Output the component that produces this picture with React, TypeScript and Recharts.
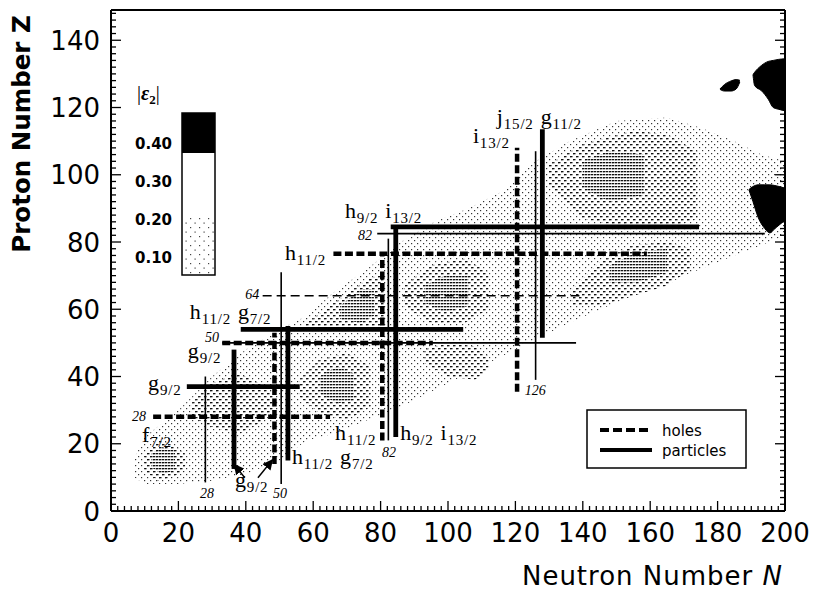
import React from 'react';
import { ComposedChart, XAxis, YAxis, Line, Area, Scatter } from 'recharts';

// ---- axes ----
const N_DOMAIN: [number, number] = [0, 200];
const Z_DOMAIN: [number, number] = [0, 149];
const N_TICKS = Array.from({ length: 101 }, (_, i) => i * 2);
const Z_TICKS = Array.from({ length: 75 }, (_, i) => i * 2);

// ---- deformation map: stippled regions as [lo, hi] bands in Z over N ----
const bandEnvelope = [
  { n: 7, lo: 10, hi: 16 },
  { n: 10, lo: 8, hi: 22 },
  { n: 20, lo: 8, hi: 30 },
  { n: 30, lo: 9, hi: 40 },
  { n: 40, lo: 11, hi: 48 },
  { n: 50, lo: 15, hi: 54 },
  { n: 58, lo: 21, hi: 58 },
  { n: 66, lo: 23, hi: 65 },
  { n: 76, lo: 27, hi: 72 },
  { n: 86, lo: 31, hi: 80 },
  { n: 96, lo: 36, hi: 86 },
  { n: 106, lo: 41, hi: 90 },
  { n: 116, lo: 46, hi: 95 },
  { n: 126, lo: 51, hi: 104 },
  { n: 136, lo: 56, hi: 110 },
  { n: 150, lo: 62, hi: 116 },
  { n: 165, lo: 68, hi: 117 },
  { n: 175, lo: 72, hi: 114 },
  { n: 185, lo: 76, hi: 110 },
  { n: 193, lo: 79, hi: 106 },
  { n: 200, lo: 82, hi: 104 },
];

// moderately deformed islands
const islandA = [
  { n: 10, lo: 12, hi: 17 },
  { n: 14, lo: 9, hi: 21 },
  { n: 18, lo: 10, hi: 20 },
  { n: 22, lo: 12, hi: 17 },
];
const islandB = [
  { n: 24, lo: 28, hi: 32 },
  { n: 30, lo: 25, hi: 38 },
  { n: 38, lo: 23, hi: 41 },
  { n: 44, lo: 26, hi: 38 },
  { n: 48, lo: 30, hi: 35 },
];
const islandC = [
  { n: 56, lo: 34, hi: 39 },
  { n: 62, lo: 29, hi: 45 },
  { n: 70, lo: 27, hi: 47 },
  { n: 77, lo: 31, hi: 43 },
];
const islandD = [
  { n: 57, lo: 54, hi: 55 },
  { n: 65, lo: 54, hi: 61 },
  { n: 75, lo: 54, hi: 68 },
  { n: 81, lo: 55, hi: 71 },
];
const islandE = [
  { n: 87, lo: 61, hi: 67 },
  { n: 95, lo: 56, hi: 73 },
  { n: 105, lo: 56, hi: 75 },
  { n: 112, lo: 60, hi: 71 },
];
const islandF = [
  { n: 93, lo: 44, hi: 48 },
  { n: 100, lo: 40, hi: 50 },
  { n: 108, lo: 39, hi: 49 },
  { n: 112, lo: 42, hi: 46 },
];
const islandG = [
  { n: 137, lo: 61, hi: 66 },
  { n: 145, lo: 61, hi: 74 },
  { n: 155, lo: 64, hi: 79 },
  { n: 165, lo: 67, hi: 80 },
  { n: 172, lo: 72, hi: 78 },
];
const islandH = [
  { n: 130, lo: 97, hi: 103 },
  { n: 140, lo: 87, hi: 109 },
  { n: 155, lo: 84, hi: 113 },
  { n: 165, lo: 84, hi: 112 },
  { n: 174, lo: 87, hi: 107 },
];

// strongest deformation inside the islands
const coreA = [
  { n: 12, lo: 13, hi: 17 },
  { n: 15, lo: 11, hi: 19 },
  { n: 19, lo: 12, hi: 18 },
];
const coreC = [
  { n: 62, lo: 35, hi: 40 },
  { n: 67, lo: 32, hi: 43 },
  { n: 72, lo: 33, hi: 41 },
];
const coreD = [
  { n: 68, lo: 57, hi: 61 },
  { n: 74, lo: 56, hi: 66 },
  { n: 78, lo: 58, hi: 66 },
];
const coreE = [
  { n: 93, lo: 62, hi: 67 },
  { n: 99, lo: 59, hi: 70 },
  { n: 106, lo: 61, hi: 70 },
];
const coreG = [
  { n: 148, lo: 68, hi: 73 },
  { n: 156, lo: 68, hi: 77 },
  { n: 165, lo: 71, hi: 78 },
];
const coreH = [
  { n: 140, lo: 96, hi: 104 },
  { n: 148, lo: 92, hi: 107 },
  { n: 158, lo: 94, hi: 106 },
];

// |eps2| > 0.36
const blackTop = [
  { n: 190.5, lo: 129.7, hi: 129.8 },
  { n: 191, lo: 126.5, hi: 130.5 },
  { n: 193, lo: 125, hi: 132.5 },
  { n: 195, lo: 122.5, hi: 133.7 },
  { n: 196.5, lo: 120, hi: 134 },
  { n: 198, lo: 119.5, hi: 134.3 },
  { n: 200, lo: 119, hi: 134.5 },
];
const blackIsle = [
  { n: 180.7, lo: 125.4, hi: 125.5 },
  { n: 182, lo: 124.9, hi: 126.8 },
  { n: 184, lo: 124.9, hi: 127.9 },
  { n: 185.5, lo: 125.5, hi: 128.3 },
  { n: 186.6, lo: 127.6, hi: 128.1 },
];
const blackLower = [
  { n: 189.3, lo: 95.5, hi: 95.6 },
  { n: 190.5, lo: 92, hi: 96.5 },
  { n: 192, lo: 87.4, hi: 97 },
  { n: 194, lo: 84, hi: 97 },
  { n: 195.5, lo: 82.7, hi: 97 },
  { n: 197, lo: 84, hi: 96.8 },
  { n: 200, lo: 86.5, hi: 96 },
];

// ---- single-particle orbitals: holes (dashed) and particles (solid) ----
const holeSegments = [
  [{ n: 12.5, z: 28 }, { n: 65, z: 28 }],
  [{ n: 48.5, z: 14 }, { n: 48.5, z: 53 }],
  [{ n: 33, z: 50 }, { n: 95.5, z: 50 }],
  [{ n: 66, z: 76.5 }, { n: 159, z: 76.5 }],
  [{ n: 80.5, z: 21 }, { n: 80.5, z: 77 }],
  [{ n: 120.5, z: 35.5 }, { n: 120.5, z: 108 }],
];
const particleSegments = [
  [{ n: 22.5, z: 37 }, { n: 56, z: 37 }],
  [{ n: 36.5, z: 12.5 }, { n: 36.5, z: 48 }],
  [{ n: 38.5, z: 54 }, { n: 104.5, z: 54 }],
  [{ n: 52.5, z: 15 }, { n: 52.5, z: 55 }],
  [{ n: 83, z: 84.5 }, { n: 174.5, z: 84.5 }],
  [{ n: 84.5, z: 22 }, { n: 84.5, z: 84.5 }],
  [{ n: 128, z: 51.5 }, { n: 128, z: 113.5 }],
];
// magic numbers (thin)
const magicSegments = [
  [{ n: 28, z: 8.5 }, { n: 28, z: 40 }],
  [{ n: 50.5, z: 8 }, { n: 50.5, z: 71 }],
  [{ n: 33, z: 50 }, { n: 138, z: 50 }],
  [{ n: 79, z: 82.5 }, { n: 194, z: 82.5 }],
  [{ n: 82.3, z: 21 }, { n: 82.3, z: 81 }],
  [{ n: 126, z: 39 }, { n: 126, z: 107 }],
];
const subshell64 = [{ n: 45, z: 64 }, { n: 139, z: 64 }];
const arrowSegments = [
  [{ n: 39.7, z: 9.9 }, { n: 36.6, z: 13.8 }],
  [{ n: 43.6, z: 9.9 }, { n: 47.9, z: 15.2 }],
];

// ---- annotations ----
const orbitalLabels = [
  { n: 9.2, z: 20.5, parts: [['f', '7/2']] },
  { n: 11, z: 36, parts: [['g', '9/2']] },
  { n: 22.8, z: 45.5, parts: [['g', '9/2']] },
  { n: 23.4, z: 57.1, parts: [['h', '11/2'], ['g', '7/2']] },
  { n: 51.6, z: 74.7, parts: [['h', '11/2']] },
  { n: 69.4, z: 87.1, parts: [['h', '9/2'], ['i', '13/2']] },
  { n: 107.4, z: 109.5, parts: [['i', '13/2']] },
  { n: 114.5, z: 115.1, parts: [['j', '15/2'], ['g', '11/2']] },
  { n: 36.8, z: 7.1, parts: [['g', '9/2']] },
  { n: 53.7, z: 14, parts: [['h', '11/2'], ['g', '7/2']] },
  { n: 66.5, z: 21.2, parts: [['h', '11/2']] },
  { n: 85.8, z: 21.2, parts: [['h', '9/2'], ['i', '13/2']] },
];
const magicLabels = [
  { n: 6.2, z: 26.7, text: '28' },
  { n: 27.9, z: 50.3, text: '50' },
  { n: 39.8, z: 63, text: '64' },
  { n: 73.3, z: 80.6, text: '82' },
  { n: 26.4, z: 3.9, text: '28' },
  { n: 48.1, z: 3.9, text: '50' },
  { n: 80.4, z: 16.1, text: '82' },
  { n: 122.8, z: 34.5, text: '126' },
];

const colorBarLabels = ['0.40', '0.30', '0.20', '0.10'];
const legendItems = [
  { name: 'holes', dash: '9 4' },
  { name: 'particles', dash: undefined },
];

const SERIF = '"Liberation Serif", "DejaVu Serif", serif';
const SANS = '"DejaVu Sans", sans-serif';

const tickStyle = { stroke: '#000', strokeWidth: 1.3 };

const BottomTick = (p: any) => {
  const { x, y, payload } = p;
  const v = payload.value;
  const major = v % 20 === 0;
  return (
    <g>
      <line x1={x} x2={x} y1={y} y2={y - (major ? 10 : 5)} {...tickStyle} />
      {major && (
        <text x={x} y={y + 31} textAnchor="middle" fontFamily={SANS} fontSize={26} fill="#000">
          {v}
        </text>
      )}
    </g>
  );
};
const TopTick = (p: any) => {
  const { x, y, payload } = p;
  const major = payload.value % 20 === 0;
  return <line x1={x} x2={x} y1={y} y2={y + (major ? 10 : 5)} {...tickStyle} />;
};
const LeftTick = (p: any) => {
  const { x, y, payload } = p;
  const v = payload.value;
  const major = v % 20 === 0;
  return (
    <g>
      <line x1={x} x2={x + (major ? 10 : 5)} y1={y} y2={y} {...tickStyle} />
      {major && (
        <text x={x - 11} y={y + 9.5} textAnchor="end" fontFamily={SANS} fontSize={26} fill="#000">
          {v}
        </text>
      )}
    </g>
  );
};
const RightTick = (p: any) => {
  const { x, y, payload } = p;
  const major = payload.value % 20 === 0;
  return <line x1={x} x2={x - (major ? 10 : 5)} y1={y} y2={y} {...tickStyle} />;
};

const OrbitalLabel = (p: any) => {
  const { cx, cy, payload } = p;
  if (payload.parts) {
    return (
      <text x={cx} y={cy} fontFamily={SERIF} fill="#000" letterSpacing={0.8}>
        {payload.parts.map((pt: string[], i: number) => (
          <React.Fragment key={i}>
            <tspan fontSize={22} dx={i ? 7 : 0} dy={i ? -5 : 0}>
              {pt[0]}
            </tspan>
            <tspan fontSize={15} dy={5}>
              {pt[1]}
            </tspan>
          </React.Fragment>
        ))}
      </text>
    );
  }
  return (
    <text x={cx} y={cy} fontFamily={SERIF} fontStyle="italic" fontSize={14} fill="#000">
      {payload.text}
    </text>
  );
};

const bandKey = (d: any) => [d.lo, d.hi];

const Band = (data: any[], key: string, fill: string) => (
  <Area
    key={key}
    data={data}
    dataKey={bandKey}
    type="linear"
    stroke="none"
    fill={fill}
    fillOpacity={1}
    isAnimationActive={false}
    activeDot={false}
  />
);

export default function App() {
  const islands = [islandA, islandB, islandC, islandD, islandE, islandF, islandG, islandH];
  const cores = [coreA, coreC, coreD, coreE, coreG, coreH];
  const blacks = [blackTop, blackIsle, blackLower];
  return (
    <div style={{ position: 'absolute', left: 0, top: 0, width: 814, height: 597, background: '#fff' }}>
      <ComposedChart width={814} height={597} margin={{ top: 9, right: 28, bottom: 26, left: 51 }}>
        <defs>
          <pattern id="stipLight" width="6" height="6" patternUnits="userSpaceOnUse">
            <rect x="0" y="0" width="1.2" height="1.2" fill="#333" />
            <rect x="3" y="3" width="1.2" height="1.2" fill="#333" />
          </pattern>
          <pattern id="stipMid" width="6" height="6" patternUnits="userSpaceOnUse">
            <rect x="0" y="0" width="2.5" height="1.3" fill="#111" />
            <rect x="3" y="3" width="2.5" height="1.3" fill="#111" />
          </pattern>
          <pattern id="stipCore" width="6" height="6" patternUnits="userSpaceOnUse">
            <rect x="3" y="0" width="2.3" height="1.3" fill="#111" />
            <rect x="0" y="3" width="2.3" height="1.3" fill="#111" />
          </pattern>
          <marker id="arrowHead" viewBox="0 0 10 10" refX="9" refY="5" markerWidth="7" markerHeight="7" orient="auto">
            <path d="M0,0 L10,5 L0,10 z" fill="#000" />
          </marker>
        </defs>
        <XAxis
          dataKey="n"
          type="number"
          domain={N_DOMAIN}
          ticks={N_TICKS}
          interval={0}
          allowDataOverflow
          height={60}
          tickSize={0}
          tickMargin={0}
          tickLine={false}
          axisLine={{ stroke: '#000', strokeWidth: 2 }}
          tick={(p: any) => <BottomTick {...p} />}
        />
        <XAxis
          xAxisId="t"
          orientation="top"
          type="number"
          domain={N_DOMAIN}
          ticks={N_TICKS}
          interval={0}
          allowDataOverflow
          height={1}
          tickSize={0}
          tickMargin={0}
          tickLine={false}
          axisLine={{ stroke: '#000', strokeWidth: 2 }}
          tick={(p: any) => <TopTick {...p} />}
        />
        <YAxis
          type="number"
          domain={Z_DOMAIN}
          ticks={Z_TICKS}
          interval={0}
          allowDataOverflow
          width={60}
          tickSize={0}
          tickMargin={0}
          tickLine={false}
          axisLine={{ stroke: '#000', strokeWidth: 2 }}
          tick={(p: any) => <LeftTick {...p} />}
        />
        <YAxis
          yAxisId="r"
          orientation="right"
          type="number"
          domain={Z_DOMAIN}
          ticks={Z_TICKS}
          interval={0}
          allowDataOverflow
          width={1}
          tickSize={0}
          tickMargin={0}
          tickLine={false}
          axisLine={{ stroke: '#000', strokeWidth: 2 }}
          tick={(p: any) => <RightTick {...p} />}
        />

        {Band(bandEnvelope, 'env', 'url(#stipLight)')}
        {islands.map((d, i) => Band(d, 'isl' + i, 'url(#stipMid)'))}
        {cores.map((d, i) => Band(d, 'core' + i, 'url(#stipCore)'))}
        {blacks.map((d, i) => (
          <Area
            key={'blk' + i}
            data={d}
            dataKey={bandKey}
            type="monotone"
            stroke="#000"
            strokeWidth={1}
            fill="#000"
            fillOpacity={1}
            isAnimationActive={false}
            activeDot={false}
          />
        ))}

        {magicSegments.map((d, i) => (
          <Line key={'m' + i} data={d} dataKey="z" stroke="#000" strokeWidth={1.6} dot={false} activeDot={false} isAnimationActive={false} />
        ))}
        <Line data={subshell64} dataKey="z" stroke="#000" strokeWidth={1.6} strokeDasharray="9 5" dot={false} activeDot={false} isAnimationActive={false} />
        {holeSegments.map((d, i) => (
          <Line key={'h' + i} data={d} dataKey="z" stroke="#000" strokeWidth={4.5} strokeDasharray="8 3.5" dot={false} activeDot={false} isAnimationActive={false} />
        ))}
        {particleSegments.map((d, i) => (
          <Line key={'p' + i} data={d} dataKey="z" stroke="#000" strokeWidth={4.8} dot={false} activeDot={false} isAnimationActive={false} />
        ))}
        {arrowSegments.map((d, i) => (
          <Line key={'a' + i} data={d} dataKey="z" stroke="#000" strokeWidth={1.5} markerEnd="url(#arrowHead)" dot={false} activeDot={false} isAnimationActive={false} />
        ))}

        <Scatter data={orbitalLabels} dataKey="z" shape={(p: any) => <OrbitalLabel {...p} />} isAnimationActive={false} />
        <Scatter data={magicLabels} dataKey="z" shape={(p: any) => <OrbitalLabel {...p} />} isAnimationActive={false} />
      </ComposedChart>

      <svg width={814} height={597} style={{ position: 'absolute', left: 0, top: 0, pointerEvents: 'none' }}>
        {/* axis titles */}
        <text
          x={21}
          y={134}
          transform="rotate(-90 21 134)"
          textAnchor="middle"
          dominantBaseline="central"
          fontFamily={SANS}
          fontWeight="bold"
          fontSize={24.5}
          fill="#000"
        >
          Proton Number Z
        </text>
        <text x={783} y={585} textAnchor="end" fontFamily={SANS} fontSize={26} letterSpacing={1} fill="#000">
          Neutron Number <tspan fontStyle="italic">N</tspan>
        </text>

        {/* |eps2| colour bar */}
        <text x={137} y={100} fontFamily={SERIF} fontSize={20} fill="#000">
          |<tspan fontStyle="italic" fontWeight="bold">ε</tspan>
          <tspan fontSize={13} dy={4} fontWeight="bold">2</tspan>
          <tspan dy={-4}>|</tspan>
        </text>
        <defs>
          <pattern id="cbDots" width="9" height="9" patternUnits="userSpaceOnUse">
            <rect x="1" y="2" width="1.2" height="1.2" fill="#444" />
            <rect x="5.5" y="6.5" width="1.2" height="1.2" fill="#444" />
          </pattern>
        </defs>
        <rect x={182} y={113} width={33} height={162} fill="#fff" stroke="#000" strokeWidth={1.5} />
        <rect x={183} y={215} width={31} height={59} fill="url(#cbDots)" />
        <rect x={182} y={113} width={33} height={40} fill="#000" />
        {colorBarLabels.map((t, i) => (
          <text key={t} x={135} y={149 + i * 38} fontFamily={SANS} fontWeight="bold" fontSize={15} fill="#000">
            {t}
          </text>
        ))}

        {/* holes / particles key */}
        <rect x={587} y={410} width={159} height={58} fill="#fff" stroke="#000" strokeWidth={1.5} />
        {legendItems.map((it, i) => (
          <g key={it.name}>
            <line x1={600} x2={652} y1={430 + i * 20} y2={430 + i * 20} stroke="#000" strokeWidth={4} strokeDasharray={it.dash} />
            <text x={662} y={436 + i * 20} fontFamily={SANS} fontSize={15} fill="#000">
              {it.name}
            </text>
          </g>
        ))}
      </svg>
    </div>
  );
}
